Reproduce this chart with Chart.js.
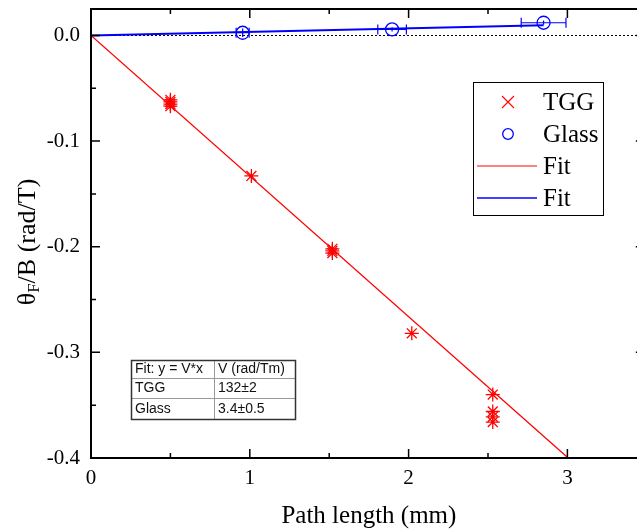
<!DOCTYPE html>
<html><head><meta charset="utf-8">
<script src="https://cdn.jsdelivr.net/npm/chart.js@4/dist/chart.umd.min.js"></script>
<style>html,body{margin:0;padding:0;overflow:hidden;background:#fff}#wrap{width:660px;height:532px}</style>
</head><body><div id="wrap"><canvas id="c" width="660" height="532"></canvas></div>
<script>
// ---- data ----
const tggX = [0.50, 0.50, 0.50, 0.50, 1.01, 1.52, 1.52, 1.52, 2.02, 2.53, 2.53, 2.53, 2.53];
const tggY = [-0.061, -0.063, -0.065, -0.067, -0.133, -0.202, -0.204, -0.206, -0.282, -0.340, -0.356, -0.361, -0.366];
const glassX = [0.955, 1.896, 2.85];
const glassY = [0.0025, 0.0057, 0.012];
const glassXErr = [0.041, 0.09, 0.141];
const glassYErr = [0.004, 0.002, 0.002];
const tggFitX = [0, 3.005];
const tggFitY = [0, -0.400];
const glassFitX = [0, 2.85];
const glassFitY = [0, 0.0097];
const xTicks = [0, 1, 2, 3];
const xMinorTicks = [0.5, 1.5, 2.5];
const yTicks = [0.0, -0.1, -0.2, -0.3, -0.4];
const yMinorTicks = [-0.05, -0.15, -0.25, -0.35];
const xRange = [0, 3.5];
const yRange = [-0.4, 0.025];
const legendLabels = ['TGG', 'Glass', 'Fit', 'Fit'];
const tableRows = [['Fit: y = V*x', 'V (rad/Tm)'], ['TGG', '132±2'], ['Glass', '3.4±0.5']];
const xTitle = 'Path length (mm)';
const yTitleParts = ['θ', 'F', '/B (rad/T)'];

const SERIF = "'Liberation Serif', 'Times New Roman', serif";
const SANS = "'Liberation Sans', Arial, sans-serif";

const zip = (xs, ys) => xs.map((x, i) => ({x: x, y: ys[i]}));

const decor = {
  id: 'decor',
  beforeDatasetsDraw(chart) {
    const {ctx, chartArea: a, scales: {x, y}} = chart;
    ctx.save();
    // dotted zero line
    ctx.strokeStyle = '#000';
    ctx.lineWidth = 1;
    ctx.setLineDash([2, 2]);
    const y0 = Math.round(y.getPixelForValue(0)) + 0.5;
    ctx.beginPath(); ctx.moveTo(a.left, y0); ctx.lineTo(a.right, y0); ctx.stroke();
    ctx.setLineDash([]);
    // glass error bars
    ctx.strokeStyle = '#0000ff';
    ctx.lineWidth = 1.2;
    glassX.forEach((gx, i) => {
      const py = y.getPixelForValue(glassY[i]);
      const x1 = x.getPixelForValue(gx - glassXErr[i]);
      const x2 = x.getPixelForValue(gx + glassXErr[i]);
      ctx.beginPath();
      ctx.moveTo(x1, py); ctx.lineTo(x2, py);
      ctx.moveTo(x1, py - 5); ctx.lineTo(x1, py + 5);
      ctx.moveTo(x2, py - 5); ctx.lineTo(x2, py + 5);
      const px = x.getPixelForValue(gx);
      ctx.moveTo(px, y.getPixelForValue(glassY[i] - glassYErr[i]));
      ctx.lineTo(px, y.getPixelForValue(glassY[i] + glassYErr[i]));
      ctx.stroke();
    });
    ctx.restore();
  },
  afterDraw(chart) {
    const {ctx, chartArea: a, scales: {x, y}} = chart;
    ctx.save();
    // frame
    ctx.strokeStyle = '#000';
    ctx.lineWidth = 2;
    ctx.strokeRect(a.left, a.top, a.right - a.left, a.bottom - a.top);
    // ticks (inward)
    ctx.lineWidth = 1.5;
    ctx.beginPath();
    const xt = (v, len) => {
      const p = x.getPixelForValue(v);
      ctx.moveTo(p, a.bottom); ctx.lineTo(p, a.bottom - len);
      ctx.moveTo(p, a.top); ctx.lineTo(p, a.top + len);
    };
    const yt = (v, len, rlen) => {
      const p = y.getPixelForValue(v);
      ctx.moveTo(a.left, p); ctx.lineTo(a.left + len, p);
      ctx.moveTo(a.right, p); ctx.lineTo(a.right - rlen, p);
    };
    xTicks.forEach(v => xt(v, 9));
    xMinorTicks.forEach(v => xt(v, 5));
    yTicks.forEach(v => yt(v, 9, 11));
    yMinorTicks.forEach(v => yt(v, 5, 5));
    ctx.stroke();

    // axis titles
    ctx.fillStyle = '#000';
    ctx.font = '25px ' + SERIF;
    ctx.textAlign = 'center';
    ctx.textBaseline = 'middle';
    ctx.fillText(xTitle, (a.left + a.right) / 2, 516);

    ctx.save();
    ctx.translate(28, 242);
    ctx.rotate(-Math.PI / 2);
    ctx.textAlign = 'left';
    const fMain = '26px ' + SERIF, fSub = '17px ' + SERIF;
    ctx.font = fMain; const w0 = ctx.measureText(yTitleParts[0]).width;
    ctx.font = fSub; const w1 = ctx.measureText(yTitleParts[1]).width;
    ctx.font = fMain; const w2 = ctx.measureText(yTitleParts[2]).width;
    let sx = -(w0 + w1 + w2) / 2;
    ctx.font = fMain; ctx.fillText(yTitleParts[0], sx, 0); sx += w0;
    ctx.font = fSub; ctx.fillText(yTitleParts[1], sx, 7); sx += w1;
    ctx.font = fMain; ctx.fillText(yTitleParts[2], sx, 0);
    ctx.restore();

    // legend
    ctx.lineWidth = 1;
    ctx.strokeStyle = '#000';
    ctx.strokeRect(473.5, 82.5, 130, 133);
    const rows = [102, 134, 166, 198];
    // TGG x marker
    ctx.strokeStyle = '#ff0000'; ctx.lineWidth = 1.1;
    ctx.beginPath();
    ctx.moveTo(502, rows[0] - 6); ctx.lineTo(514, rows[0] + 6);
    ctx.moveTo(514, rows[0] - 6); ctx.lineTo(502, rows[0] + 6);
    ctx.stroke();
    // Glass circle
    ctx.strokeStyle = '#0000ff'; ctx.lineWidth = 1.3;
    ctx.beginPath(); ctx.arc(508, rows[1], 5.3, 0, Math.PI * 2); ctx.stroke();
    // Fit lines
    ctx.strokeStyle = '#ff0000'; ctx.lineWidth = 1;
    ctx.beginPath(); ctx.moveTo(477, rows[2]); ctx.lineTo(537, rows[2]); ctx.stroke();
    ctx.strokeStyle = '#0000ff'; ctx.lineWidth = 1.5;
    ctx.beginPath(); ctx.moveTo(477, rows[3]); ctx.lineTo(537, rows[3]); ctx.stroke();
    ctx.fillStyle = '#000';
    ctx.font = '25px ' + SERIF;
    ctx.textAlign = 'left'; ctx.textBaseline = 'middle';
    legendLabels.forEach((t, i) => ctx.fillText(t, 543, rows[i] + 1));

    // fit table
    const tx0 = 131.5, tx1 = 214.5, tx2 = 295.5;
    const ty = [360.5, 378.5, 398.5, 419.5];
    ctx.strokeStyle = '#999'; ctx.lineWidth = 1;
    ctx.beginPath();
    ctx.moveTo(tx0, ty[1]); ctx.lineTo(tx2, ty[1]);
    ctx.moveTo(tx0, ty[2]); ctx.lineTo(tx2, ty[2]);
    ctx.moveTo(tx1, ty[0]); ctx.lineTo(tx1, ty[3]);
    ctx.stroke();
    ctx.strokeStyle = '#333'; ctx.lineWidth = 1.5;
    ctx.strokeRect(tx0, ty[0], tx2 - tx0, ty[3] - ty[0]);
    ctx.fillStyle = '#111';
    ctx.font = '14px ' + SANS;
    ctx.textBaseline = 'middle';
    tableRows.forEach((r, i) => {
      const cy = (ty[i] + ty[i + 1]) / 2;
      ctx.fillText(r[0], 135, cy);
      ctx.fillText(r[1], 218, cy);
    });
    ctx.restore();
  }
};

new Chart(document.getElementById('c'), {
  type: 'scatter',
  data: {
    datasets: [
      {label: 'Fit', type: 'line', data: zip(tggFitX, tggFitY), borderColor: '#ff0000', borderWidth: 1.3, pointRadius: 0, fill: false, tension: 0},
      {label: 'Fit', type: 'line', data: zip(glassFitX, glassFitY), borderColor: '#0000ff', borderWidth: 2, pointRadius: 0, fill: false, tension: 0},
      {label: 'TGG', data: zip(tggX, tggY), pointStyle: 'star', pointRadius: 7, borderColor: '#ff0000', backgroundColor: '#ff0000', borderWidth: 1.3},
      {label: 'Glass', data: zip(glassX, glassY), pointStyle: 'circle', pointRadius: 6.5, borderColor: '#0000ff', backgroundColor: 'rgba(0,0,0,0)', borderWidth: 1.3}
    ]
  },
  options: {
    animation: false,
    responsive: false,
    devicePixelRatio: 1,
    layout: {padding: {top: 9, right: 13.2, left: 0, bottom: 0}},
    plugins: {legend: {display: false}, tooltip: {enabled: false}},
    scales: {
      x: {
        type: 'linear', min: xRange[0], max: xRange[1],
        grid: {display: false, drawTicks: false},
        border: {display: false},
        afterFit(s) { s.height = 74; s.paddingLeft = 0; s.paddingRight = 0; },
        afterBuildTicks(s) { s.ticks = xTicks.map(v => ({value: v})); },
        ticks: {font: {family: SERIF, size: 21}, color: '#000', padding: 8, maxRotation: 0, autoSkip: false,
          callback: v => String(v)}
      },
      y: {
        type: 'linear', min: yRange[0], max: yRange[1],
        grid: {display: false, drawTicks: false},
        border: {display: false},
        afterFit(s) { s.width = 91; s.paddingTop = 0; s.paddingBottom = 0; },
        afterBuildTicks(s) { s.ticks = yTicks.map(v => ({value: v})); },
        ticks: {font: {family: SERIF, size: 21}, color: '#000', padding: 11, autoSkip: false,
          callback: v => v.toFixed(1)}
      }
    }
  },
  plugins: [decor]
});
</script>
</body></html>
